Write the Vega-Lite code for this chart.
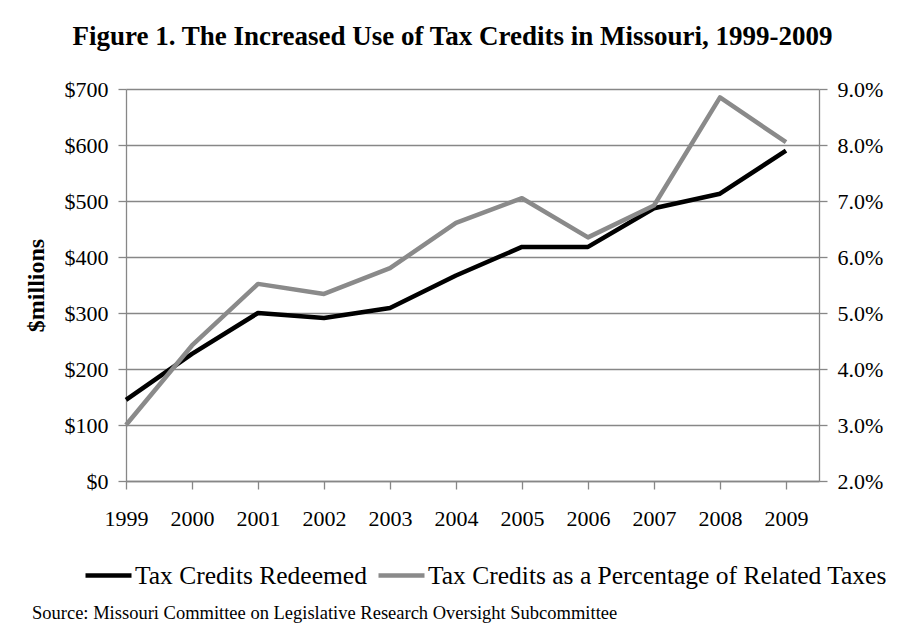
{
  "$schema": "https://vega.github.io/schema/vega-lite/v6.json",
  "padding": {"left": 24, "top": 23, "right": 10, "bottom": 5},
  "background": "white",
  "config": {"font": "Liberation Serif", "view": {"stroke": null}, "legend": {"layout": {"bottom": {"anchor": "middle"}}}},
  "title": {"text": "Source:  Missouri Committee on Legislative Research Oversight Subcommittee", "orient": "bottom", "anchor": "start", "frame": "bounds", "fontSize": 18.5, "fontWeight": "normal", "color": "black", "font": "Liberation Serif", "offset": 15, "dx": 8},
  "vconcat": [
    {
      "width": 693,
      "height": 392,
      "title": {"text": "Figure 1. The Increased Use of Tax Credits in Missouri, 1999-2009", "fontSize": 27, "fontWeight": "bold", "color": "black", "font": "Liberation Serif", "offset": 27, "anchor": "middle", "dx": -20},
      "data": {"values": [
        {"Year": 1999, "Redeemed": 145, "Pct": 3.0},
        {"Year": 2000, "Redeemed": 227, "Pct": 4.42},
        {"Year": 2001, "Redeemed": 300, "Pct": 5.52},
        {"Year": 2002, "Redeemed": 291, "Pct": 5.34},
        {"Year": 2003, "Redeemed": 309, "Pct": 5.8},
        {"Year": 2004, "Redeemed": 367, "Pct": 6.61},
        {"Year": 2005, "Redeemed": 418, "Pct": 7.05},
        {"Year": 2006, "Redeemed": 418, "Pct": 6.35},
        {"Year": 2007, "Redeemed": 487, "Pct": 6.92},
        {"Year": 2008, "Redeemed": 513, "Pct": 8.85},
        {"Year": 2009, "Redeemed": 590, "Pct": 8.05}
      ]},
      "layer": [
        {
          "mark": {"type": "line", "strokeWidth": 4.5, "strokeJoin": "round"},
          "encoding": {
            "x": {"field": "Year", "type": "quantitative", "scale": {"domain": [1999, 2009.5], "nice": false, "zero": false},
              "axis": {"values": [1999, 2000, 2001, 2002, 2003, 2004, 2005, 2006, 2007, 2008, 2009], "format": "d", "title": null, "grid": false, "labelFontSize": 22, "labelColor": "black", "labelPadding": 19, "tickSize": 8, "tickColor": "#878787", "domainColor": "#878787", "domainWidth": 1.3, "tickWidth": 1.3, "labelFlush": false}},
            "y": {"field": "Redeemed", "type": "quantitative", "scale": {"domain": [0, 700], "nice": false},
              "axis": {"values": [0, 100, 200, 300, 400, 500, 600, 700], "labelExpr": "'$' + datum.value", "title": "$millions", "titleFontSize": 24, "titleFontWeight": "bold", "titleColor": "black", "titlePadding": 16, "labelFontSize": 22, "labelColor": "black", "labelPadding": 10, "tickSize": 8, "tickColor": "#878787", "domainColor": "#878787", "gridColor": "#878787", "domainWidth": 1.3, "gridWidth": 1.3, "tickWidth": 1.3, "labelFlush": false}},
            "color": {"datum": "Tax Credits Redeemed", "type": "nominal",
              "scale": {"domain": ["Tax Credits Redeemed", "Tax Credits as a Percentage of Related Taxes"], "range": ["#000000", "#8a8a8a"]},
              "legend": {"orient": "bottom", "direction": "horizontal", "title": " ", "titleOrient": "left", "titleFontSize": 10, "titlePadding": 24, "symbolType": "stroke", "symbolStrokeWidth": 4.5, "symbolSize": 2116, "labelFontSize": 25.5, "labelFont": "Liberation Serif", "labelColor": "black", "labelOffset": 1, "columnPadding": 2, "labelLimit": 0, "offset": 21}}
          }
        },
        {
          "mark": {"type": "line", "strokeWidth": 4.5, "strokeJoin": "round"},
          "encoding": {
            "x": {"field": "Year", "type": "quantitative"},
            "y": {"field": "Pct", "type": "quantitative", "scale": {"domain": [2, 9], "nice": false, "zero": false},
              "axis": {"orient": "right", "values": [2, 3, 4, 5, 6, 7, 8, 9], "labelExpr": "format(datum.value, '.1f') + '%'", "title": null, "grid": false, "labelFontSize": 22, "labelColor": "black", "labelPadding": 10, "tickSize": 8, "tickColor": "#878787", "domainColor": "#878787", "domainWidth": 1.3, "tickWidth": 1.3, "labelFlush": false}},
            "color": {"datum": "Tax Credits as a Percentage of Related Taxes", "type": "nominal"}
          }
        }
      ],
      "resolve": {"scale": {"y": "independent"}}
    }
  ]
}
